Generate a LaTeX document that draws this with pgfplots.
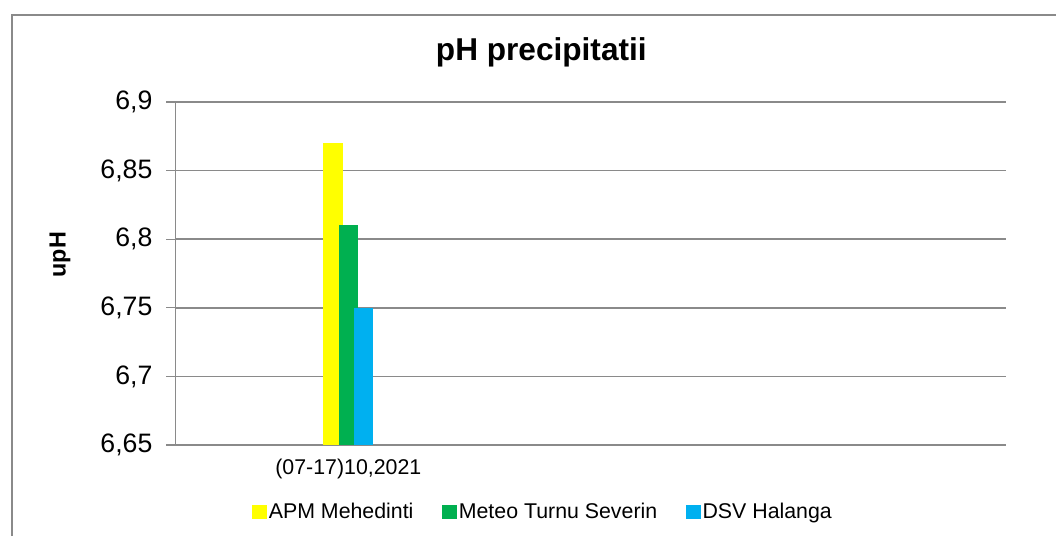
\documentclass[border=0pt]{standalone}
\usepackage{fontspec}
\setmainfont{Liberation Sans}
\usepackage{pgfplots}
\pgfplotsset{compat=1.18}
\definecolor{cyel}{HTML}{FFFF00}
\definecolor{cgrn}{HTML}{00B050}
\definecolor{cblu}{HTML}{00B0F0}
\definecolor{cgrid}{HTML}{8A8A8A}
\begin{document}
\begin{tikzpicture}[x=1pt,y=1pt]
\useasboundingbox (0,0) rectangle (792,402);
\fill[white] (0,0) rectangle (792,402);
\draw[cgrid, line width=1.5pt] (8.8,0) -- (8.8,391.1) -- (792,391.1);
\node[anchor=base, font=\fontsize{23.7}{28}\selectfont\bfseries] at (406,356.25) {pH precipitatii};
\begin{axis}[
  at={(131.8pt,68.25pt)}, anchor=south west,
  scale only axis, width=622.5pt, height=257.25pt,
  xmin=-172.6, xmax=657.4,
  ymin=6.65, ymax=6.9,
  ytick={6.65,6.7,6.75,6.8,6.85,6.9},
  xtick={0}, xticklabels={(07-17)10{,}2021},
  xtick style={draw=none},
  ytick style={cgrid, line width=0.8pt},
  major tick length=7pt,
  tick align=outside,
  axis x line*=bottom, axis y line*=left,
  axis line style={cgrid, line width=1.1pt, -},
  ymajorgrids, grid style={cgrid, line width=1.1pt},
  /pgf/number format/assume math mode=true,
  /pgf/number format/use comma,
  yticklabel style={font=\fontsize{20}{24}\selectfont, text=black, xshift=-7pt},
  xticklabel style={font=\fontsize{16}{19}\selectfont, text=black},
  ylabel={upH},
  every axis y label/.style={at={(axis description cs:-0.1394,0.555)}, rotate=90, anchor=center, font=\fontsize{17.5}{20}\selectfont\bfseries},
  legend columns=3,
  legend style={at={(axis description cs:0.4425,-0.195)}, anchor=center, draw=none,
    font=\fontsize{16}{19}\selectfont,
    /tikz/every even column/.append style={column sep=20pt},
    /tikz/every odd column/.append style={column sep=0pt},
    nodes={inner sep=1.5pt}},
  legend image code/.code={\fill[#1] (0pt,-5.5pt) rectangle (11pt,5.5pt);},
]
\addplot[ybar, bar width=19.5, bar shift=-15.3, fill=cyel, draw=none] coordinates {(0,6.87)};
\addlegendentry{APM Mehedinti}
\addplot[ybar, bar width=19.5, bar shift=0, fill=cgrn, draw=none] coordinates {(0,6.81)};
\addlegendentry{Meteo Turnu Severin}
\addplot[ybar, bar width=19.5, bar shift=15.3, fill=cblu, draw=none] coordinates {(0,6.75)};
\addlegendentry{DSV Halanga}
\end{axis}
\end{tikzpicture}
\end{document}
